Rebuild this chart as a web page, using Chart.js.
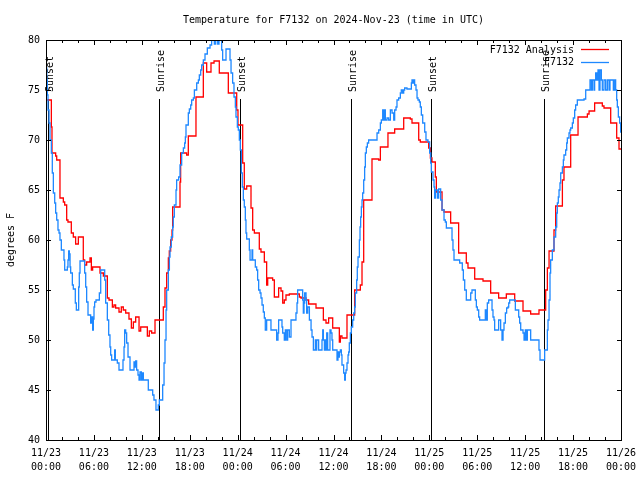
<!DOCTYPE html>
<html>
<head>
<meta charset="utf-8">
<script src="https://cdn.jsdelivr.net/npm/chart.js@4/dist/chart.umd.min.js"></script>
<style>
html,body{margin:0;padding:0;background:#ffffff;}
#wrap{width:640px;height:480px;}
</style>
</head>
<body>
<div id="wrap"><canvas id="c" width="640" height="480"></canvas></div>
<script>
// ---------- data ----------
const chartTitle = 'Temperature for F7132 on 2024-Nov-23 (time in UTC)';
const yAxisTitle = 'degrees F';
const seriesNames = ['F7132 Analysis', 'F7132'];
const xTickLabels = [
  ['11/23','00:00'],['11/23','06:00'],['11/23','12:00'],['11/23','18:00'],
  ['11/24','00:00'],['11/24','06:00'],['11/24','12:00'],['11/24','18:00'],
  ['11/25','00:00'],['11/25','06:00'],['11/25','12:00'],['11/25','18:00'],
  ['11/26','00:00']
];
const yTickValues = [40,45,50,55,60,65,70,75,80];
const sunLabels = ['Sunset','Sunrise','Sunset','Sunrise','Sunset','Sunrise'];
const sunHours = [0.29, 14.2, 24.3, 38.2, 48.25, 62.3];

// hours since 11/23 00:00 UTC
const analysisHours = [0,0.67,0.75,1.21,1.34,1.75,2.17,2.34,2.59,2.75,
 3.17,3.42,3.71,4.05,4.67,4.84,5.09,5.51,5.68,5.84,
 6.76,7.18,7.68,7.89,8.31,8.51,8.72,9.14,9.43,9.68,
 9.98,10.39,10.69,10.94,11.23,11.65,11.86,12.69,12.94,13.23,
 13.65,14.69,14.90,15.11,15.32,15.44,15.61,15.78,15.86,16.78,
 16.86,17.61,17.82,18.78,19.70,20.12,20.66,21.04,21.70,22.83,
 23.88,24.04,24.63,24.83,25.13,25.67,25.88,26.09,26.71,26.92,
 27.34,27.63,27.76,28.38,28.59,29.13,29.43,29.64,29.84,30.05,
 30.47,31.72,31.93,32.56,32.89,33.81,34.73,35.06,35.39,35.90,
 36.73,36.86,37.06,37.69,38.65,39.36,39.57,39.78,40.82,41.66,
 41.87,42.82,43.66,44.79,45.62,45.83,46.67,46.87,47.92,48.13,
 48.33,48.75,48.88,49.59,49.84,50.67,51.67,52.63,52.84,53.68,
 54.72,55.68,56.68,57.64,58.69,59.73,60.69,61.73,62.57,62.78,
 62.99,63.61,63.82,64.66,64.86,65.70,66.62,67.79,68.00,68.70,
 69.66,69.87,70.71,71.46,71.75,72.0];
const analysisTemps = [74.0,71.3,68.7,68.4,68.0,64.2,63.8,63.5,62.0,61.8,
 60.7,60.3,59.6,60.3,58.0,57.5,57.8,58.2,57.0,57.3,
 56.7,56.4,54.2,54.0,53.3,53.5,53.2,52.8,53.3,53.0,
 52.7,52.1,51.2,51.8,52.3,50.9,51.3,50.4,50.9,50.7,
 52.0,53.3,55.2,56.7,58.2,58.9,60.0,61.0,63.3,65.8,
 68.7,68.5,70.4,74.3,77.7,76.8,77.7,77.9,76.7,74.7,
 73.0,71.5,67.7,65.1,65.4,63.2,61.0,60.7,59.1,58.8,
 57.8,55.5,56.2,56.0,54.3,55.2,54.9,53.7,54.0,54.5,
 54.6,54.3,54.2,54.0,53.6,53.2,52.0,51.7,52.2,51.2,
 49.8,50.4,50.2,52.5,55.0,55.5,57.8,64.0,68.1,68.0,
 69.3,70.7,71.1,72.2,72.1,71.7,70.0,69.8,69.2,68.2,
 67.8,66.3,64.8,63.0,62.8,61.7,58.7,57.7,57.2,56.1,
 55.9,54.7,54.2,54.6,53.9,52.9,52.6,53.0,55.0,57.2,
 58.9,61.0,63.4,66.0,67.3,70.5,72.3,72.6,72.9,73.7,
 73.4,73.2,71.7,70.2,69.1,69.1];

// [hour, temperature] readings of station F7132
const stationReadings = [[0,77.2],[0.1,76.0],[0.17,74.5],[0.25,73.0],[0.38,71.7],[0.50,70.0],[0.67,68.7],[0.79,66.7],[0.92,64.7],[1.09,63.7],[1.21,62.7],[1.34,62.0],[1.50,61.0],[1.63,60.7],[1.75,60.0],[1.92,59.0],[2.25,58.0],[2.34,57.0],[2.67,57.3],[2.75,58.0],[2.84,58.9],[2.92,58.6],[3.01,57.3],[3.09,56.7],[3.30,55.5],[3.42,55.1],[3.67,53.7],[3.80,53.0],[4.09,55.3],[4.17,56.7],[4.26,57.9],[4.84,56.7],[4.97,55.3],[5.09,53.8],[5.26,52.5],[5.59,51.7],[5.72,52.3],[5.84,51.0],[5.93,52.1],[6.01,53.3],[6.09,53.8],[6.26,54.0],[6.68,54.7],[6.85,57.0],[7.35,56.0],[7.47,53.7],[7.68,52.0],[7.85,50.5],[8.01,49.3],[8.10,48.5],[8.22,48.0],[8.60,49.0],[8.68,48.0],[8.93,47.7],[9.14,47.0],[9.64,48.0],[9.77,49.3],[9.85,51.0],[9.98,50.7],[10.10,49.7],[10.27,48.3],[10.52,47.0],[11.02,47.8],[11.10,47.3],[11.23,47.9],[11.35,47.0],[11.52,46.5],[11.65,46.0],[11.77,46.8],[11.94,46.0],[12.06,46.7],[12.19,46.0],[12.81,45.0],[13.36,44.5],[13.52,44.0],[13.77,43.0],[14.06,43.5],[14.19,44.0],[14.61,45.5],[14.78,47.7],[14.90,50.0],[15.03,53.0],[15.11,55.0],[15.32,57.0],[15.45,58.3],[15.53,59.3],[15.69,60.3],[15.86,61.3],[15.94,62.3],[16.07,63.5],[16.28,65.0],[16.36,66.0],[16.61,66.3],[16.78,67.5],[16.99,68.7],[17.20,69.2],[17.36,69.7],[17.45,70.3],[17.53,71.5],[17.82,72.7],[17.95,73.1],[18.12,73.5],[18.24,74.0],[18.45,74.2],[18.58,75.0],[18.87,75.7],[19.08,76.0],[19.20,76.5],[19.37,77.0],[19.49,77.5],[19.70,78.0],[19.91,78.6],[20.20,79.2],[20.54,79.5],[20.74,80.0],[21.08,79.6],[21.25,80.0],[21.50,79.6],[21.66,80.0],[22.00,79.0],[22.12,78.0],[22.54,79.1],[23.04,78.0],[23.17,76.7],[23.37,75.7],[23.54,74.3],[23.71,73.3],[23.79,72.3],[23.96,71.3],[24.08,71.0],[24.21,70.0],[24.33,69.0],[24.46,66.7],[24.58,65.3],[24.71,64.0],[24.83,63.3],[24.96,62.0],[25.04,60.7],[25.13,60.1],[25.46,59.0],[25.55,58.0],[25.80,59.0],[25.88,58.0],[26.21,57.3],[26.38,57.0],[26.50,56.0],[26.63,55.0],[26.80,54.7],[26.92,54.2],[27.05,53.5],[27.21,52.8],[27.34,52.2],[27.46,51.0],[27.63,52.0],[28.17,51.0],[28.88,50.0],[29.05,50.7],[29.13,52.0],[29.55,51.3],[29.64,50.7],[29.84,50.0],[29.97,51.0],[30.14,50.0],[30.26,51.0],[30.47,50.3],[30.68,52.0],[31.30,52.7],[31.43,53.7],[31.51,55.0],[32.14,54.0],[32.22,52.7],[32.31,53.7],[32.39,54.7],[32.56,54.0],[32.64,52.7],[32.77,53.3],[32.98,52.0],[33.19,51.0],[33.31,50.3],[33.48,49.0],[33.73,50.0],[33.81,49.0],[33.90,50.0],[34.14,49.0],[34.56,50.0],[34.65,51.0],[34.73,50.0],[34.86,49.0],[34.98,50.0],[35.06,49.0],[35.15,50.7],[35.27,49.0],[35.56,51.0],[35.69,50.7],[35.81,50.0],[35.90,49.0],[36.44,48.0],[36.56,48.8],[36.65,48.3],[36.73,48.8],[36.86,49.0],[36.98,48.5],[37.06,47.5],[37.27,46.7],[37.40,46.0],[37.48,46.7],[37.57,47.0],[37.69,47.7],[37.82,48.5],[37.90,48.8],[37.98,49.7],[38.11,50.7],[38.23,51.3],[38.40,52.0],[38.53,52.7],[38.65,53.3],[38.73,54.7],[38.90,56.0],[38.98,57.3],[39.07,58.3],[39.24,60.0],[39.32,61.3],[39.40,62.3],[39.49,63.3],[39.57,64.0],[39.65,64.7],[39.78,66.0],[39.90,67.3],[39.99,68.7],[40.11,69.3],[40.24,69.7],[40.40,70.0],[41.45,70.7],[41.66,71.0],[41.87,71.7],[41.99,72.0],[42.16,73.0],[42.28,72.0],[42.41,73.0],[42.49,72.0],[42.70,72.2],[42.91,72.0],[43.12,73.0],[43.33,72.7],[43.54,72.0],[43.66,73.0],[43.83,73.3],[43.95,74.0],[44.16,74.2],[44.37,74.7],[44.49,75.0],[44.66,74.7],[44.79,75.0],[44.91,75.2],[45.20,75.1],[45.75,75.7],[45.83,76.0],[45.91,75.7],[46.04,76.0],[46.16,75.5],[46.33,75.0],[46.46,74.2],[46.58,74.0],[46.75,73.8],[46.87,73.3],[47.00,72.5],[47.17,71.7],[47.42,70.8],[47.58,70.0],[47.83,69.8],[48.04,68.7],[48.17,67.7],[48.25,66.8],[48.46,66.0],[48.59,65.3],[48.67,64.2],[48.75,65.0],[49.00,64.2],[49.17,65.1],[49.42,64.0],[49.59,63.0],[49.84,62.0],[50.00,61.8],[50.13,61.2],[50.84,60.0],[50.96,59.0],[51.09,58.0],[51.80,57.7],[52.13,57.0],[52.26,56.0],[52.43,55.0],[52.63,54.0],[53.18,54.7],[53.34,55.0],[53.76,54.0],[53.89,53.3],[54.01,53.0],[54.18,52.3],[54.30,52.0],[55.01,53.0],[55.14,52.0],[55.26,53.7],[55.43,54.0],[55.85,53.0],[55.97,52.3],[56.10,52.0],[56.18,51.0],[56.68,52.0],[56.93,51.0],[57.10,50.0],[57.23,51.0],[57.35,51.7],[57.52,52.7],[57.68,53.2],[57.85,53.3],[57.94,53.7],[58.06,54.0],[58.77,53.0],[59.19,52.3],[59.31,51.7],[59.44,51.0],[59.73,50.7],[59.86,50.0],[60.02,51.0],[60.15,50.0],[60.27,51.0],[60.69,50.0],[61.73,49.0],[61.86,48.0],[62.44,49.0],[62.78,51.0],[62.86,52.0],[62.99,54.0],[63.11,56.7],[63.19,58.0],[63.40,59.0],[63.61,60.3],[63.82,61.3],[63.95,62.7],[64.03,63.7],[64.15,64.3],[64.24,65.0],[64.36,65.7],[64.45,66.7],[64.66,67.3],[64.78,68.0],[64.86,68.5],[65.07,69.0],[65.20,69.7],[65.28,70.2],[65.49,70.7],[65.61,71.0],[65.70,71.2],[65.91,71.7],[66.03,72.2],[66.20,73.0],[66.32,73.5],[66.53,74.0],[67.37,74.1],[67.58,75.0],[68.12,76.0],[68.29,75.0],[68.41,76.0],[68.62,75.0],[68.70,76.0],[68.83,76.7],[68.96,76.0],[69.12,77.0],[69.25,75.0],[69.37,77.0],[69.54,76.0],[69.66,75.0],[69.87,76.0],[70.08,75.0],[70.29,76.0],[70.50,75.0],[70.62,76.0],[71.04,75.0],[71.21,76.0],[71.33,75.0],[71.46,74.0],[71.54,73.3],[71.67,72.3],[71.83,71.7],[71.96,70.8],[72.0,70.8]];

const seriesColors = ['#ff0000', '#1e88ff'];

// ---------- chart ----------
const FONT_FAMILY = '"DejaVu Sans Mono", "Liberation Mono", monospace';
const FONT = '10px ' + FONT_FAMILY;
Chart.defaults.font.family = FONT_FAMILY;
Chart.defaults.font.size = 10;
Chart.defaults.color = '#000';

const analysisData = analysisHours.map((h, i) => ({x: h, y: analysisTemps[i]}));
const stationData = stationReadings.map(p => ({x: p[0], y: p[1]}));

const decor = {
  id: 'decor',
  beforeDatasetsDraw(chart) {
    const {ctx, chartArea: a, scales: {x}} = chart;
    ctx.save();
    ctx.strokeStyle = '#000';
    ctx.fillStyle = '#000';
    ctx.lineWidth = 1;
    ctx.font = FONT;
    sunHours.forEach((h, i) => {
      const px = Math.round(x.getPixelForValue(h)) + 0.5;
      ctx.beginPath();
      ctx.moveTo(px, a.top + 59);
      ctx.lineTo(px, a.bottom);
      ctx.stroke();
      ctx.save();
      ctx.translate(px + 1.5, a.top + 52);
      ctx.rotate(-Math.PI / 2);
      ctx.textAlign = 'left';
      ctx.textBaseline = 'middle';
      ctx.fillText(sunLabels[i], 0, 0);
      ctx.restore();
    });
    ctx.restore();
  },
  afterDraw(chart) {
    const {ctx, chartArea: a, scales: {x, y}} = chart;
    ctx.save();
    ctx.strokeStyle = '#000';
    ctx.fillStyle = '#000';
    ctx.lineWidth = 1;
    // border
    ctx.strokeRect(a.left + 0.5, a.top + 0.5, a.right - a.left, a.bottom - a.top);
    // x ticks (inward, mirrored)
    ctx.beginPath();
    for (let t = 0; t <= 72; t += 2) {
      const px = Math.round(x.getPixelForValue(t)) + 0.5;
      const len = (t % 6 === 0) ? 5 : 3;
      ctx.moveTo(px, a.bottom); ctx.lineTo(px, a.bottom - len);
      ctx.moveTo(px, a.top); ctx.lineTo(px, a.top + len);
    }
    yTickValues.forEach(v => {
      const py = Math.round(y.getPixelForValue(v)) + 0.5;
      ctx.moveTo(a.left, py); ctx.lineTo(a.left + 5, py);
      ctx.moveTo(a.right + 1, py); ctx.lineTo(a.right - 4, py);
    });
    ctx.stroke();
    // title
    ctx.font = FONT;
    ctx.textAlign = 'center';
    ctx.textBaseline = 'middle';
    ctx.fillText(chartTitle, (a.left + a.right) / 2, 20);
    // y title
    ctx.save();
    ctx.translate(11, (a.top + a.bottom) / 2);
    ctx.rotate(-Math.PI / 2);
    ctx.fillText(yAxisTitle, 0, 0);
    ctx.restore();
    // legend
    const legendY = [50, 62.5];
    seriesNames.forEach((name, i) => {
      ctx.textAlign = 'right';
      ctx.fillStyle = '#000';
      ctx.fillText(name, 574, legendY[i]);
      ctx.strokeStyle = seriesColors[i];
      ctx.lineWidth = 1.3;
      ctx.beginPath();
      ctx.moveTo(581, Math.round(legendY[i]) - 0.5);
      ctx.lineTo(609, Math.round(legendY[i]) - 0.5);
      ctx.stroke();
    });
    ctx.restore();
  }
};

new Chart(document.getElementById('c'), {
  type: 'line',
  data: {
    datasets: [
      {label: seriesNames[1], data: stationData, borderColor: seriesColors[1],
       borderWidth: 1.3, pointRadius: 0, stepped: 'before', fill: false},
      {label: seriesNames[0], data: analysisData, borderColor: seriesColors[0],
       borderWidth: 1.3, pointRadius: 0, stepped: 'before', fill: false}
    ]
  },
  options: {
    responsive: false,
    animation: false,
    devicePixelRatio: 1,
    layout: {padding: {left: 0, top: 40, right: 19, bottom: 0}},
    plugins: {legend: {display: false}, title: {display: false}, tooltip: {enabled: false}},
    scales: {
      x: {
        type: 'linear', min: 0, max: 72,
        grid: {display: false, drawTicks: false},
        border: {display: false},
        ticks: {
          stepSize: 6, autoSkip: false, maxRotation: 0, minRotation: 0,
          padding: 7, color: '#000',
          font: {family: FONT_FAMILY, size: 10, lineHeight: 1.35},
          callback: (v) => xTickLabels[Math.round(v / 6)]
        },
        afterFit: (s) => { s.height = 40; s.paddingLeft = 0; s.paddingRight = 0; }
      },
      y: {
        type: 'linear', min: 40, max: 80,
        grid: {display: false, drawTicks: false},
        border: {display: false},
        ticks: {stepSize: 5, padding: 6, color: '#000', font: {family: FONT_FAMILY, size: 10}},
        afterFit: (s) => { s.width = 46; s.paddingTop = 0; s.paddingBottom = 0; }
      }
    }
  },
  plugins: [decor]
});
</script>
</body>
</html>
